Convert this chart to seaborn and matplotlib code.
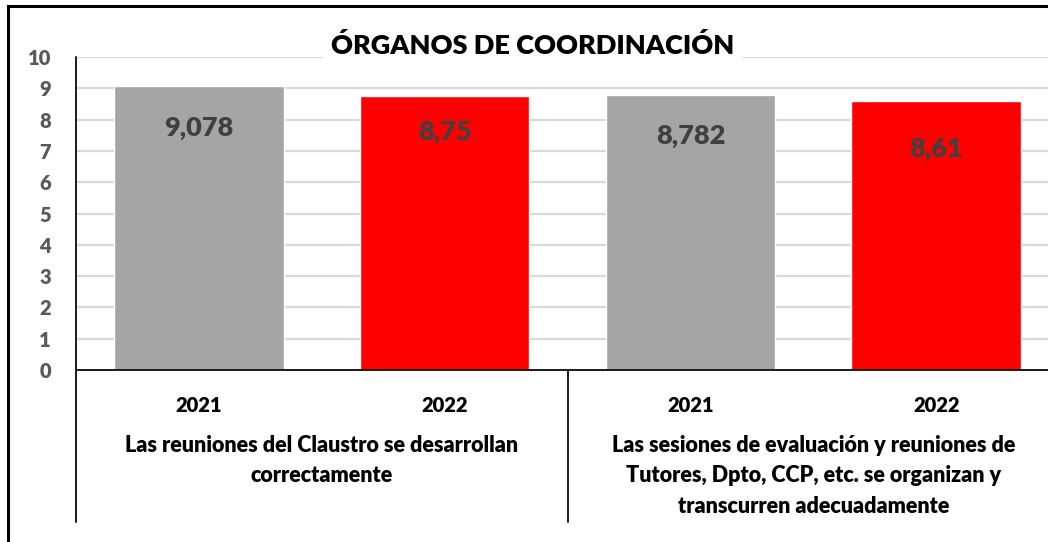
import matplotlib
matplotlib.use("Agg")
import matplotlib.pyplot as plt
import matplotlib.patches as mpatches
import matplotlib.transforms as mtrans
import seaborn as sns
import pandas as pd

# ---- data ----
title = "ÓRGANOS DE COORDINACIÓN"
groups = ["Las reuniones del Claustro se desarrollan\ncorrectamente",
          "Las sesiones de evaluación y reuniones de\nTutores, Dpto, CCP, etc. se organizan y\ntranscurren adecuadamente"]
years = ["2021", "2022", "2021", "2022"]
values = [9.078, 8.75, 8.782, 8.61]
value_labels = ["9,078", "8,75", "8,782", "8,61"]
bar_ids = ["g1-2021", "g1-2022", "g2-2021", "g2-2022"]
yticks = list(range(0, 11))

# label placement (style): distance of each value label below its bar top, in points
label_offsets = [30.6, 26.0, 29.5, 34.6]

df = pd.DataFrame({"bar": bar_ids, "value": values, "year": years})

sns.set_style("white")
FONT = ["Lato", "DejaVu Sans"]
plt.rcParams["font.family"] = FONT

W, H = 1048, 542
fig = plt.figure(figsize=(W / 100, H / 100), dpi=100)
fig.patch.set_facecolor("white")

ax_left, ax_right, ax_top, ax_bottom = 76, 1059, 57, 370
ax = fig.add_axes([ax_left / W, 1 - ax_bottom / H,
                   (ax_right - ax_left) / W, (ax_bottom - ax_top) / H])

sns.barplot(data=df, x="bar", y="value", hue="year",
            palette={"2021": "#A5A5A5", "2022": "#FF0000"},
            dodge=False, width=0.69, legend=False, ax=ax,
            saturation=1, zorder=2)

ax.set_xlim(-0.5, 3.5)
ax.set_ylim(0, 10)
ax.set_yticks(yticks)
ax.set_yticklabels([str(t) for t in yticks], fontsize=14.5, fontweight="heavy",
                   color="#595959")
ax.tick_params(axis="y", length=0, pad=18)
ax.tick_params(axis="x", length=0)
ax.set_xticks([])
ax.set_xlabel("")
ax.set_ylabel("")
for t in yticks[1:]:
    ax.axhline(t, color="#D9D9D9", lw=1.6, zorder=0)
for s in ["top", "right"]:
    ax.spines[s].set_visible(False)
ax.spines["bottom"].set_color("#1a1a1a")
ax.spines["bottom"].set_linewidth(1.4)
ax.spines["left"].set_visible(False)

# value labels inside bars
for i, (v, lab, off) in enumerate(zip(values, value_labels, label_offsets)):
    ax.annotate(lab, (i, v), xytext=(0, -off), textcoords="offset points",
                ha="center", va="center", fontsize=19.5, fontweight="heavy",
                color="#404040", zorder=3)

# category axis labels
for i, y in enumerate(years):
    ax.annotate(y, (i, 0), xycoords=("data", "figure pixels"),
                xytext=(i, H - 405), textcoords=("data", "figure pixels"),
                ha="center", va="center", fontsize=14.5, fontweight="heavy",
                color="black")
for g, lab in enumerate(groups):
    ax.annotate(lab, (2 * g + 0.5, 0), xycoords=("data", "figure pixels"),
                xytext=(2 * g + 0.5, H - 435), textcoords=("data", "figure pixels"),
                ha="center", va="top", fontsize=15.5, fontweight="heavy",
                color="black", linespacing=1.55)

# vertical separator lines (axis + group dividers)
tr = mtrans.blended_transform_factory(ax.transData, fig.transFigure)
for xd, y0 in [(-0.5, ax_top), (1.5, ax_bottom), (3.5, ax_bottom)]:
    ln = plt.Line2D([xd, xd], [1 - y0 / H, 1 - 522 / H], transform=tr,
                    color="#1a1a1a", lw=1.4, clip_on=False)
    fig.add_artist(ln)

# title with white background interrupting the top gridline
fig.text(533 / W, 1 - 45 / H, title, ha="center", va="center",
         fontsize=19.5, fontweight="heavy", color="black",
         bbox=dict(facecolor="white", edgecolor="none", pad=6), zorder=5)

# chart border (cropped at right/bottom)
border = mpatches.Rectangle((8 / W, -0.1), 1.2, 1 - 6 / H + 0.1,
                            transform=fig.transFigure, fill=False,
                            edgecolor="black", lw=2.2, clip_on=False)
fig.add_artist(border)

fig.savefig("out.png", dpi=100)
